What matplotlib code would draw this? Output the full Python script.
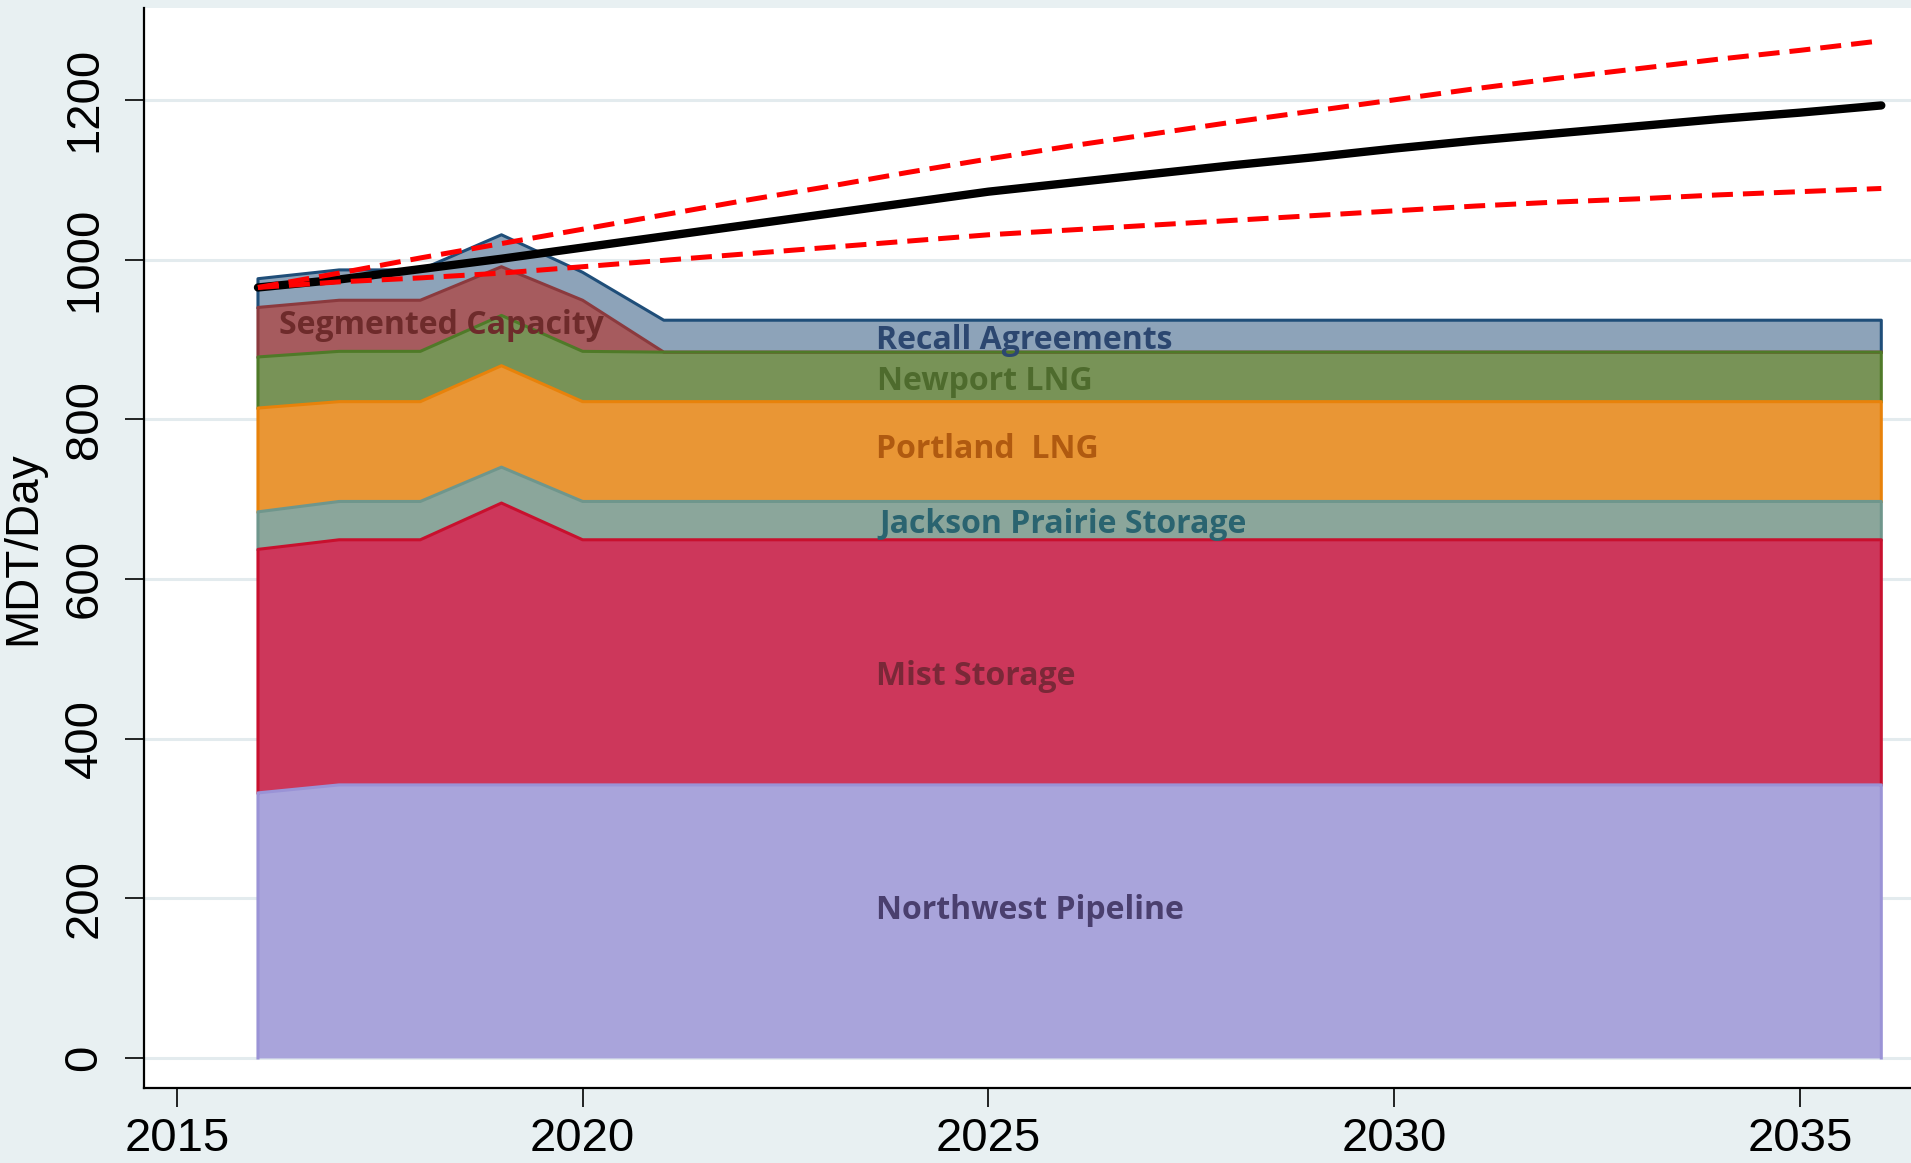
import matplotlib
matplotlib.use('Agg')
import matplotlib.pyplot as plt
import numpy as np

plt.rcParams['font.family'] = ['Liberation Sans', 'DejaVu Sans']

years = np.arange(2016, 2037)

# resource stack, bottom to top (MDT/day)
nw_pipeline = [332, 342, 342, 342, 342, 342, 342, 342, 342, 342, 342,
               342, 342, 342, 342, 342, 342, 342, 342, 342, 342]
mist_storage = [305, 307, 307, 353, 307, 307, 307, 307, 307, 307, 307,
                307, 307, 307, 307, 307, 307, 307, 307, 307, 307]
jackson_prairie = [47, 48, 48, 45, 48, 48, 48, 48, 48, 48, 48,
                   48, 48, 48, 48, 48, 48, 48, 48, 48, 48]
portland_lng = [130, 125, 125, 127, 125, 125, 125, 125, 125, 125, 125,
                125, 125, 125, 125, 125, 125, 125, 125, 125, 125]
newport_lng = [64, 63, 63, 63, 63, 62, 62, 62, 62, 62, 62,
               62, 62, 62, 62, 62, 62, 62, 62, 62, 62]
segmented_capacity = [62, 64, 64, 61, 64, 0, 0, 0, 0, 0, 0,
                      0, 0, 0, 0, 0, 0, 0, 0, 0, 0]
recall_agreements = [36, 38, 38, 40, 35, 40, 40, 40, 40, 40, 40,
                     40, 40, 40, 40, 40, 40, 40, 40, 40, 40]

# peak day demand forecast: base case and high/low bands
demand_base = [965, 975, 988, 1001, 1015, 1029, 1043, 1057, 1071, 1085, 1096,
               1107, 1118, 1128, 1139, 1149, 1158, 1167, 1176, 1184, 1193]
demand_high = [965, 983, 1002, 1020, 1038, 1056, 1074, 1091, 1109, 1126, 1142,
               1157, 1172, 1186, 1200, 1214, 1227, 1239, 1251, 1262, 1274]
demand_low = [965, 972, 977, 983, 991, 999, 1007, 1015, 1023, 1031, 1037,
              1043, 1049, 1055, 1061, 1067, 1072, 1076, 1081, 1085, 1089]

layers = [
    ('Northwest Pipeline', nw_pipeline, '#A9A4DB', '#9A93D6', '#4A3F6E', (2023.62, 185)),
    ('Mist Storage', mist_storage, '#CD375B', '#C8102E', '#7A2838', (2023.62, 478)),
    ('Jackson Prairie Storage', jackson_prairie, '#8BA69B', '#6F968C', '#2A6470', (2023.66, 668)),
    ('Portland  LNG', portland_lng, '#E99635', '#E8820A', '#B05A10', (2023.62, 762)),
    ('Newport LNG', newport_lng, '#789357', '#4F7A28', '#4E6B2D', (2023.63, 847)),
    ('Segmented Capacity', segmented_capacity, '#A65B5E', '#8B3A3E', '#6E2B2B', (2016.26, 918)),
    ('Recall Agreements', recall_agreements, '#8DA3B9', '#1F4E79', '#2C4770', (2023.62, 899)),
]

fig = plt.figure(figsize=(19.11, 11.63), dpi=100, facecolor='#E8F0F2')
ax = fig.add_axes([0.0754, 0.0645, 0.9246, 0.9286])
ax.set_facecolor('white')

base = np.zeros(len(years))
outlines = []
for name, vals, fill, edge, tcol, pos in layers:
    top = base + np.array(vals)
    ax.fill_between(years, base, top, color=fill, lw=0, zorder=2)
    xs = np.concatenate([[years[0]], years, [years[-1]]])
    ys = np.concatenate([[base[0]], top, [base[-1]]])
    outlines.append((xs, ys, edge))
    base = top

# lower layers' edges drawn last so they sit on top
for xs, ys, edge in reversed(outlines):
    ax.plot(xs, ys, color=edge, lw=2.2, zorder=3)

for name, vals, fill, edge, tcol, pos in layers:
    ax.text(pos[0], pos[1], name, color=tcol, fontsize=23, fontweight='bold',
            family=['Open Sans', 'DejaVu Sans'], ha='left', va='center', zorder=6)

ax.plot(years, demand_base, color='black', lw=6, solid_capstyle='round', zorder=4)
ax.plot(years, demand_high, color='#FF0000', lw=3.6, dashes=(4.2, 2.0), zorder=5)
ax.plot(years, demand_low, color='#FF0000', lw=3.6, dashes=(4.2, 2.0), zorder=5)

ax.set_xlim(2014.597, 2036.366)
ax.set_ylim(-37.6, 1315)
ax.set_xticks([2015, 2020, 2025, 2030, 2035])
ax.set_yticks([0, 200, 400, 600, 800, 1000, 1200])
ax.yaxis.grid(True, color='#E3EBEE', lw=2.2)
ax.set_axisbelow(True)

for side in ['top', 'right']:
    ax.spines[side].set_visible(False)
for side in ['left', 'bottom']:
    ax.spines[side].set_linewidth(1.6)

ax.tick_params(axis='both', length=14, width=1.2, direction='out', labelsize=34)
ax.tick_params(axis='x', pad=7)
ax.tick_params(axis='y', pad=13, labelrotation=90)
for lbl in ax.get_yticklabels():
    lbl.set_va('center')

ax.set_ylabel('MDT/Day', fontsize=33)
ax.yaxis.set_label_coords(-0.056, 0.5)

fig.savefig('out.png', dpi=100, facecolor=fig.get_facecolor())
